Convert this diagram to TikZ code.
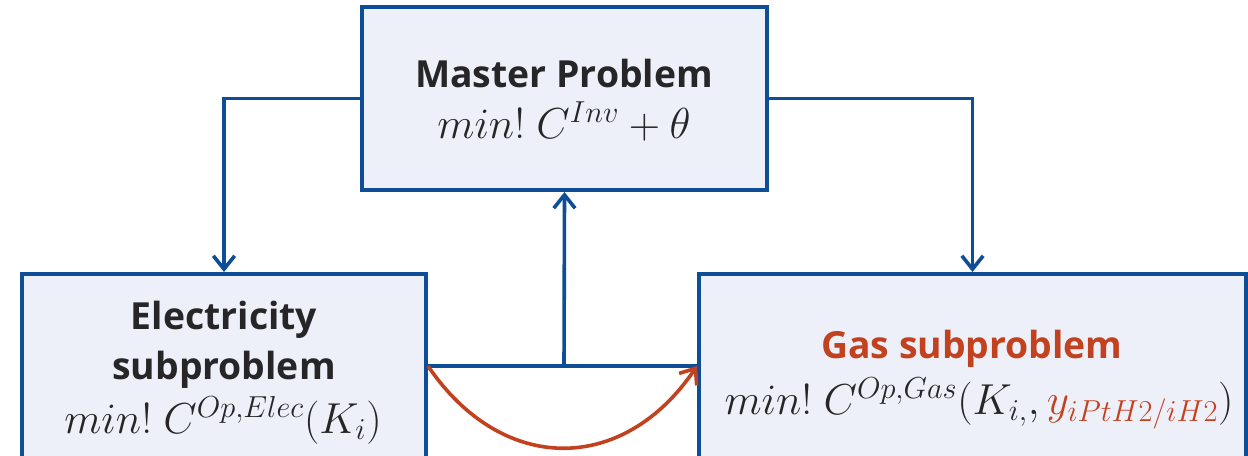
\documentclass[tikz,border=0pt]{standalone}
\usepackage{fix-cm}
\usepackage{fontspec}
\setmainfont{Open Sans}
\usetikzlibrary{arrows.meta,calc}
\definecolor{frameblue}{RGB}{14,78,150}
\definecolor{boxfill}{RGB}{237,240,248}
\definecolor{gasred}{RGB}{194,66,32}
\definecolor{ink}{RGB}{38,38,40}
\tikzset{
  panel/.style={draw=frameblue, fill=boxfill, line width=3pt, inner sep=0pt},
  title/.style={anchor=base, text=ink, font=\fontsize{28}{32}\selectfont\bfseries, inner sep=0pt},
  formula/.style={anchor=base, text=ink, font=\fontsize{32.5}{36}\selectfont, inner sep=0pt},
  flow/.style={draw=frameblue, line width=2.7pt, -{Straight Barb[length=10pt,width=16pt]}},
  link/.style={draw=frameblue, line width=2.7pt},
  gasflow/.style={draw=gasred, line width=2.7pt, -{Straight Barb[length=10pt,width=16pt]}}
}
\begin{document}
\begin{tikzpicture}[x=0.75pt,y=-0.75pt]
\useasboundingbox (0,0) rectangle (1248,455);
\clip (0,0) rectangle (1248,455);
\fill[white] (0,0) rectangle (1248,455);

% boxes (the two lower ones run past the bottom edge)
\node[panel, minimum width=303.75pt, minimum height=137.25pt] (master) at (564.5,98.5) {};
\node[panel, minimum width=303pt, minimum height=184.5pt] (elec) at (224,397) {};
\node[panel, minimum width=410.25pt, minimum height=184.5pt] (gas) at (972.5,397) {};

% box texts
\node[title] (mt) at (564,87) {Master Problem};
\node[formula] (mf) at (564,138) {$min!\ C^{Inv}+\theta$};

\node[title] (et1) at (224,329) {Electricity};
\node[title] (et2) at (224,379) {subproblem};
\node[formula] (ef) at (223,433) {$min!\ C^{Op,Elec}(K_i)$};

\node[title, text=gasred] (gt) at (972,358) {Gas subproblem};
\node[formula] (gf) at (979,414) {$min!\ C^{Op,Gas}(K_{i,},\textcolor{gasred}{y_{iPtH2/iH2}})$};

% connectors
\coordinate (hub) at (564,366);
\draw[flow] (master.west) -| (elec.north);
\draw[flow] (master.east) -| (gas.north);
\draw[link] (elec.north east |- hub) -- (gas.north west |- hub);
\draw[flow] (hub) -- (master.south);
\draw[gasflow] (elec.north east |- hub) .. controls +(74,109) and +(-74,109) .. (gas.north west |- hub);
\end{tikzpicture}
\end{document}
